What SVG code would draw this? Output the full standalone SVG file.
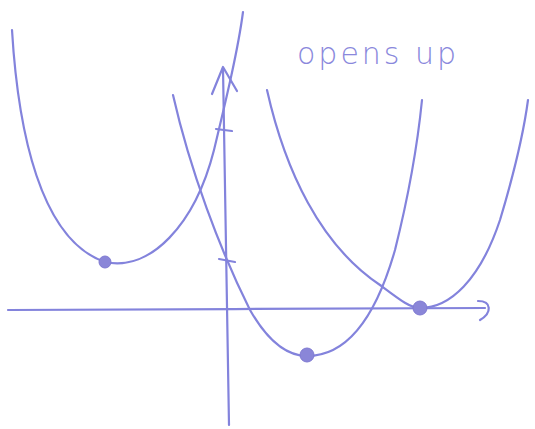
<svg xmlns="http://www.w3.org/2000/svg" width="535" height="429" viewBox="0 0 535 429">
<style>
.s{fill:none;stroke:#8383dc;stroke-width:2.2;stroke-linecap:round;stroke-linejoin:round}
.d{fill:#8a86d8;stroke:#7f7ad2;stroke-width:1}
.t{font-family:"DejaVu Sans",sans-serif;font-size:30px;fill:#8a88dc;letter-spacing:3px;font-weight:300}
</style>
<rect width="535" height="429" fill="#ffffff"/>
<g id="axes">
<path class="s" d="M8,310 C150,309 350,309 485,308"/>
<path class="s" d="M478,301 C492,301 492,313 480,320"/>
<path class="s" d="M229,425 C228,300 226,180 223,68"/>
<path class="s" d="M212,94 L223,67 L237,91"/>
<path class="s" d="M216,129 L232,131"/>
<path class="s" d="M219,259 L235,262"/>
</g>
<g id="curves">
<path class="s" d="M12,30 C18,130 40,240 105,262 C150,272 195,225 214,150 C226,100 238,50 243,12"/>
<path class="s" d="M173,95 C190,170 220,250 250,310 C270,345 290,356 307,356 C345,356 375,320 395,250 C410,190 418,140 422,100"/>
<path class="s" d="M267,90 C285,170 320,245 380,285 C400,300 410,308 420,308 C450,308 480,280 500,220 C515,170 524,130 528,100"/>
</g>
<g id="points">
<circle class="d" cx="105" cy="262" r="6"/>
<circle class="d" cx="307" cy="355" r="7"/>
<circle class="d" cx="420" cy="308" r="7"/>
</g>
<text class="t" x="297" y="64">opens up</text>
</svg>
